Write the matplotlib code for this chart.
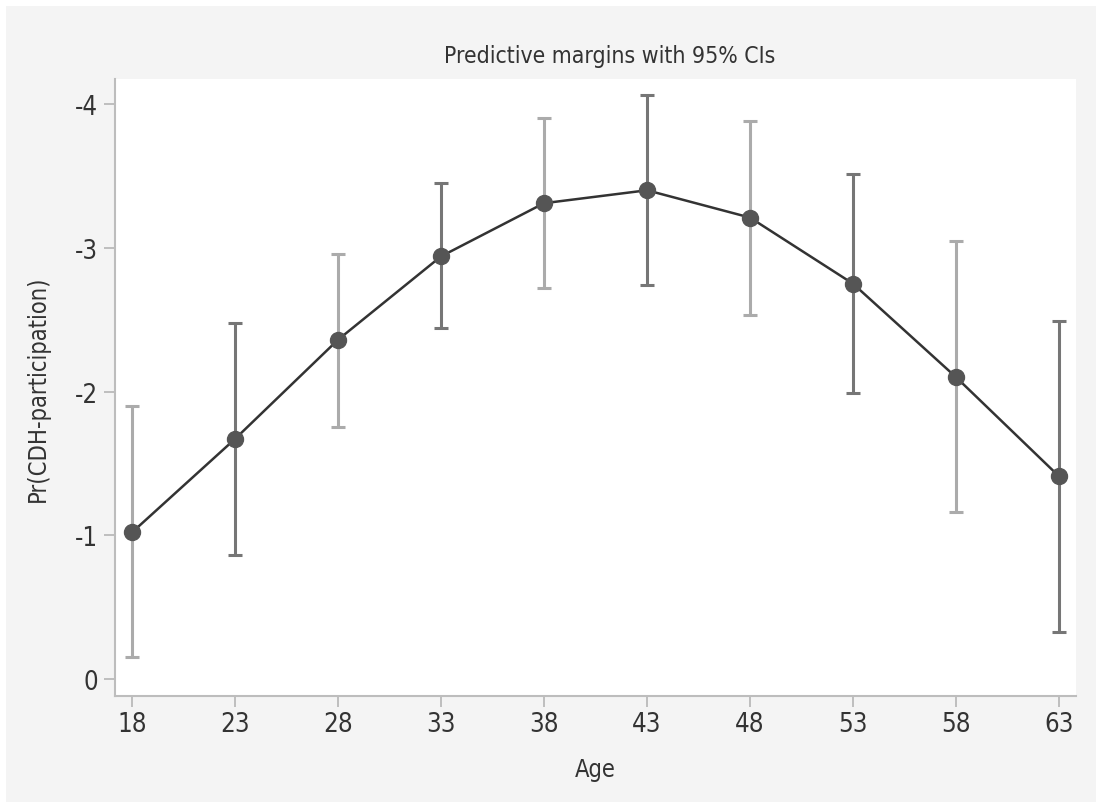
import matplotlib
matplotlib.use("Agg")
import matplotlib.pyplot as plt
from matplotlib.patches import Rectangle

# margins por edad
edades = [18, 23, 28, 33, 38, 43, 48, 53, 58, 63]
margen = [0.102, 0.167, 0.236, 0.294, 0.331, 0.340, 0.321, 0.275, 0.210, 0.141]
ic_bajo = [0.015, 0.086, 0.175, 0.244, 0.272, 0.274, 0.253, 0.199, 0.116, 0.033]
ic_alto = [0.190, 0.248, 0.296, 0.345, 0.390, 0.406, 0.388, 0.351, 0.305, 0.249]

y_ticks = [0, 0.1, 0.2, 0.3, 0.4]
y_labels = ["0", "-1", "-2", "-3", "-4"]

plt.rcParams["font.family"] = ["DejaVu Sans"]
plt.rcParams["font.stretch"] = "condensed"

fig = plt.figure(figsize=(10.96, 8.03), dpi=100)
fig.patch.set_facecolor("#f4f4f4")
# franjas blancas arriba y a la izquierda
fig.patches.append(Rectangle((0, 1 - 7 / 803), 1, 7 / 803, transform=fig.transFigure,
                             facecolor="white", edgecolor="none", zorder=-10))
fig.patches.append(Rectangle((0, 0), 6 / 1096, 1, transform=fig.transFigure,
                             facecolor="white", edgecolor="none", zorder=-10))

ax = fig.add_axes([115 / 1096, 106 / 803, 961 / 1096, 617 / 803])
ax.set_facecolor("white")

oscuro = "#767676"
claro = "#ababab"
for i, x in enumerate(edades):
    color = claro if i % 2 == 0 else oscuro
    ax.errorbar([x], [margen[i]],
                yerr=[[margen[i] - ic_bajo[i]], [ic_alto[i] - margen[i]]],
                fmt="none", ecolor=color, elinewidth=2.2, capsize=5, capthick=2.2, zorder=2)

ax.plot(edades, margen, color="#333333", lw=1.8, zorder=3)
ax.plot(edades, margen, "o", color="#555555", ms=11.5, zorder=4)

ax.set_xlim(17.175, 63.825)
ax.set_ylim(-0.0118, 0.4174)
ax.set_xticks(edades)
ax.set_yticks(y_ticks)
ax.set_yticklabels(y_labels)

for s in ["top", "right"]:
    ax.spines[s].set_visible(False)
for s in ["left", "bottom"]:
    ax.spines[s].set_color("#bdbdbd")
    ax.spines[s].set_linewidth(1.5)

ax.tick_params(axis="both", color="#b5b5b5", width=1.2, length=8, labelsize=18.5, labelcolor="#333333")
ax.tick_params(axis="x", pad=3)
ax.tick_params(axis="y", pad=4)

ax.set_title("Predictive margins with 95% CIs", fontsize=16.5, color="#333333", pad=12, x=0.515)
ax.set_xlabel("Age", fontsize=17, color="#333333", labelpad=14)
ax.set_ylabel("Pr(CDH-participation)", fontsize=17, color="#333333", labelpad=18)

fig.savefig("out.png", dpi=100, facecolor=fig.get_facecolor())
